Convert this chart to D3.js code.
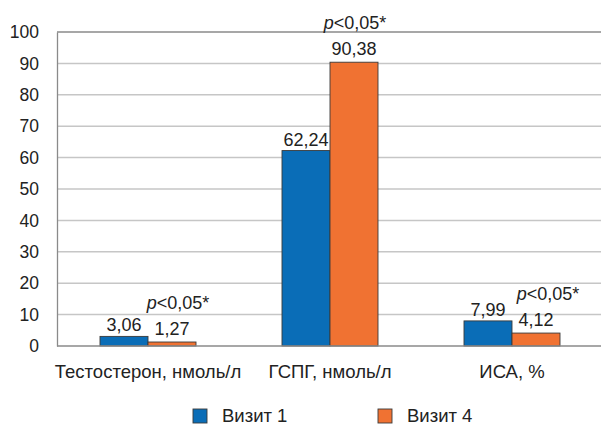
<!DOCTYPE html>
<html>
<head>
<meta charset="utf-8">
<script src="https://cdn.jsdelivr.net/npm/d3@7"></script>
<style>
  html, body { margin: 0; padding: 0; background: #fff; }
  svg { display: block; font-family: "Liberation Sans", Arial, Helvetica, sans-serif; }
</style>
</head>
<body>
<svg id="chart" width="601" height="425"></svg>
<script>
const categories = ["Тестостерон, нмоль/л", "ГСПГ, нмоль/л", "ИСА, %"];
const seriesNames = ["Визит 1", "Визит 4"];
const visit1 = [3.06, 62.24, 7.99];
const visit4 = [1.27, 90.38, 4.12];
const valueLabels1 = ["3,06", "62,24", "7,99"];
const valueLabels4 = ["1,27", "90,38", "4,12"];
const pLabels = ["<0,05*", "<0,05*", "<0,05*"];
const yTicks = [0, 10, 20, 30, 40, 50, 60, 70, 80, 90, 100];

const colors = ["#0a6db7", "#f07232"];
const pOffsets = [6, 1, 12];

const svg = d3.select("#chart");
const mLeft = 57, mRight = 603, mTop = 32, mBottom = 346;

const x0 = d3.scaleBand().domain(categories).range([mLeft, mRight]).padding(0);
const barW = 48;
const x1 = d3.scaleBand().domain(seriesNames).range([0, barW * 2]).padding(0);
const y = d3.scaleLinear().domain([0, 100]).range([mBottom, mTop]);

// gridlines
svg.append("g").selectAll("line")
  .data(yTicks.filter(t => t > 0 && t < 100))
  .join("line")
  .attr("x1", mLeft).attr("x2", 601)
  .attr("y1", d => y(d)).attr("y2", d => y(d))
  .attr("stroke", "#c6c6c6").attr("stroke-width", 1.5);

// top frame line
svg.append("line")
  .attr("x1", mLeft).attr("x2", 601)
  .attr("y1", y(100)).attr("y2", y(100))
  .attr("stroke", "#8a8a8a").attr("stroke-width", 1.3);

// y axis
const yAxis = d3.axisLeft(y).tickValues(yTicks).tickSize(0).tickPadding(18);
const gy = svg.append("g").attr("transform", `translate(${mLeft},0)`).call(yAxis);
gy.select(".domain").attr("stroke", "#8a8a8a").attr("stroke-width", 1.3);
gy.selectAll("text").attr("font-size", 17.5).attr("fill", "#222")
  .attr("font-family", "'Liberation Sans', Arial, sans-serif");

// bars
const series = [visit1, visit4];
const labels = [valueLabels1, valueLabels4];
const groupX = c => x0(c) + (x0.bandwidth() - barW * 2) / 2;

series.forEach((vals, si) => {
  const g = svg.append("g");
  g.selectAll("rect").data(categories).join("rect")
    .attr("x", (c) => groupX(c) + x1(seriesNames[si]))
    .attr("y", (c, i) => y(vals[i]))
    .attr("width", x1.bandwidth())
    .attr("height", (c, i) => y(0) - y(vals[i]))
    .attr("fill", colors[si])
    .attr("stroke", "#3a3a3a").attr("stroke-width", 0.9);
  g.selectAll("text").data(categories).join("text")
    .attr("x", (c) => groupX(c) + x1(seriesNames[si]) + x1.bandwidth() / 2)
    .attr("y", (c, i) => y(vals[i]) - (si === 0 ? 5 : 7))
    .attr("text-anchor", "middle")
    .attr("font-size", 18).attr("fill", "#222")
    .text((c, i) => labels[si][i]);
});

// x axis line
svg.append("line")
  .attr("x1", mLeft).attr("x2", 601)
  .attr("y1", y(0)).attr("y2", y(0))
  .attr("stroke", "#8a8a8a").attr("stroke-width", 1.5);

// p labels
svg.append("g").selectAll("text").data(categories).join("text")
  .attr("x", (c, i) => groupX(c) + x1(seriesNames[1]) + x1.bandwidth() / 2 + pOffsets[i])
  .attr("y", (c, i) => y(visit4[i]) - 7 - 26)
  .attr("text-anchor", "middle")
  .attr("font-size", 18).attr("fill", "#222")
  .each(function(c, i) {
    const t = d3.select(this);
    t.append("tspan").attr("font-style", "italic").text("p");
    t.append("tspan").text(pLabels[i]);
  });

// category labels
svg.append("g").selectAll("text").data(categories).join("text")
  .attr("x", c => x0(c) + x0.bandwidth() / 2)
  .attr("y", 378)
  .attr("text-anchor", "middle")
  .attr("font-size", 18.5).attr("fill", "#222")
  .text(c => c);

// legend
const legendX = [193, 378];
const lg = svg.append("g");
seriesNames.forEach((s, i) => {
  lg.append("rect").attr("x", legendX[i]).attr("y", 409)
    .attr("width", 14).attr("height", 14)
    .attr("fill", colors[i]).attr("stroke", "#3a3a3a").attr("stroke-width", 0.9);
  lg.append("text").attr("x", legendX[i] + 29).attr("y", 422)
    .attr("font-size", 18.5).attr("fill", "#222").text(s);
});
</script>
</body>
</html>
